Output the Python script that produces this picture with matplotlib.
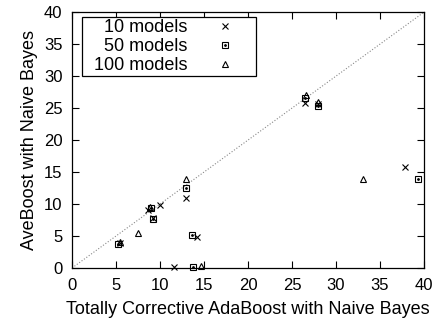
import matplotlib
matplotlib.use("Agg")
import matplotlib.pyplot as plt
from matplotlib.legend_handler import HandlerTuple

plt.rcParams['font.family'] = ['Liberation Sans', 'DejaVu Sans']

# error rates (%)
tc_10 = [5.4, 8.6, 9.2, 10.0, 13.0, 14.2, 11.6, 26.5, 27.9, 37.8]
ave_10 = [3.9, 9.0, 7.8, 9.8, 11.0, 4.9, 0.1, 25.8, 25.7, 15.8]
tc_50 = [5.2, 9.0, 9.2, 13.0, 13.6, 13.8, 26.5, 27.9, 39.3]
ave_50 = [3.8, 9.4, 7.6, 12.5, 5.2, 0.1, 26.5, 25.4, 13.9]
tc_100 = [5.5, 7.5, 8.9, 13.0, 14.6, 26.6, 27.9, 33.1]
ave_100 = [4.0, 5.4, 9.6, 13.9, 0.3, 27.0, 26.0, 13.9]

labels = ['10 models', '50 models', '  100 models']

lim = [0, 40]
ticks = [0, 5, 10, 15, 20, 25, 30, 35, 40]

fig = plt.figure(figsize=(4.34, 3.28), dpi=100)
ax = fig.add_axes([0.166, 0.183, 0.811, 0.780])

ax.plot(lim, lim, color='#888888', linestyle=':', linewidth=0.8, zorder=1)

h10, = ax.plot(tc_10, ave_10, linestyle='none', marker='x', markersize=4,
               markeredgewidth=0.8, color='black', clip_on=False)
h50a, = ax.plot(tc_50, ave_50, linestyle='none', marker='s', markersize=4.5,
                markerfacecolor='none', markeredgewidth=0.8, color='black', clip_on=False)
h50b, = ax.plot(tc_50, ave_50, linestyle='none', marker='.', markersize=2,
                color='black', clip_on=False)
h100, = ax.plot(tc_100, ave_100, linestyle='none', marker='^', markersize=4,
                markerfacecolor='none', markeredgewidth=0.8, color='black', clip_on=False)

ax.set_xlim(lim)
ax.set_ylim(lim)
ax.set_xticks(ticks)
ax.set_yticks(ticks)
ax.tick_params(direction='in', length=5, width=0.8, top=True, right=True,
               labelsize=12, colors='black')
ax.tick_params(axis='x', pad=7)
ax.tick_params(axis='y', pad=7)
for s in ax.spines.values():
    s.set_linewidth(0.9)

ax.set_xlabel('Totally Corrective AdaBoost with Naive Bayes', fontsize=13, labelpad=6)
ax.set_ylabel('AveBoost with Naive Bayes', fontsize=13, labelpad=4)

leg = ax.legend([h10, (h50a, h50b), h100], labels,
                handler_map={tuple: HandlerTuple(ndivide=1, pad=0)},
                loc='upper left', bbox_to_anchor=(0.028, 0.98), markerfirst=False,
                fontsize=13, frameon=True, fancybox=False, edgecolor='black',
                framealpha=1, borderpad=0.12, labelspacing=0.1, handlelength=3.2,
                handletextpad=0.45, borderaxespad=0)
leg.get_frame().set_linewidth(0.9)

fig.savefig('out.png', dpi=100)
